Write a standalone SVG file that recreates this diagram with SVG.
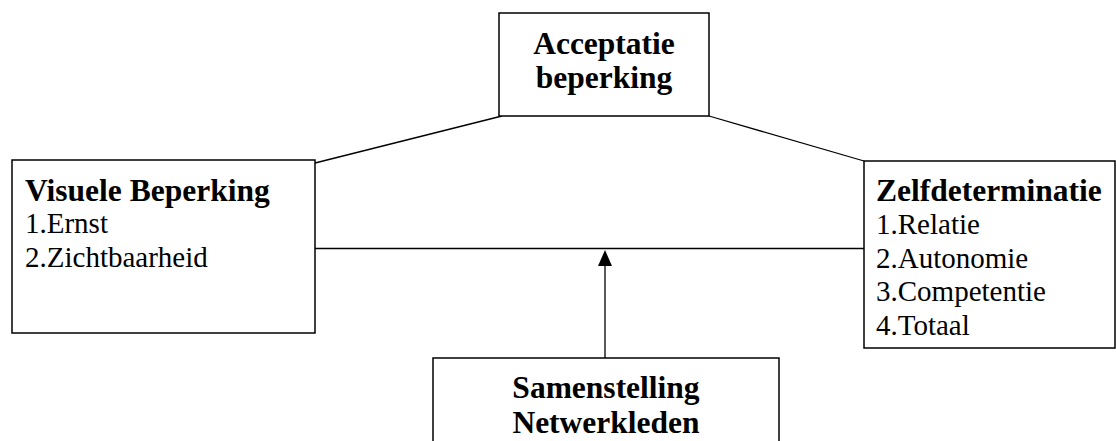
<svg xmlns="http://www.w3.org/2000/svg" width="1116" height="441" viewBox="0 0 1116 441">
<style>
.box{fill:#fff;stroke:#000;stroke-width:1.5}
.line{stroke:#000;stroke-width:1.3;fill:none}
.b{font-family:"Liberation Serif","Times New Roman",serif;font-weight:bold;font-size:31.5px;fill:#000}
.r{font-family:"Liberation Serif","Times New Roman",serif;font-size:29px;fill:#000}
</style>
<defs>
<marker id="arr" markerWidth="14" markerHeight="16" refX="7" refY="1" orient="auto-start-reverse" markerUnits="userSpaceOnUse" viewBox="0 0 14 16">
<path d="M0,16 L7,0 L14,16 Z" fill="#000"/>
</marker>
</defs>
<rect width="1116" height="441" fill="#fff"/>
<g id="connectors">
<line class="line" x1="315" y1="163" x2="502" y2="116"/>
<line class="line" x1="709" y1="116" x2="864" y2="161"/>
<line class="line" x1="315" y1="248.5" x2="864" y2="248.5"/>
<line class="line" x1="605" y1="358" x2="605" y2="266"/>
<path d="M598,266 L605,250 L612,266 Z" fill="#000"/>
</g>
<g id="acceptatie">
<rect class="box" x="499" y="13" width="210" height="103"/>
<text class="b" x="604" y="54" text-anchor="middle">Acceptatie</text>
<text class="b" x="604" y="88" text-anchor="middle">beperking</text>
</g>
<g id="visuele">
<rect class="box" x="12" y="160" width="303" height="173"/>
<text class="b" x="25" y="201">Visuele Beperking</text>
<text class="r" x="25" y="233">1.Ernst</text>
<text class="r" x="25" y="267">2.Zichtbaarheid</text>
</g>
<g id="zelfdeterminatie">
<rect class="box" x="864" y="161" width="251" height="187"/>
<text class="b" x="876" y="201">Zelfdeterminatie</text>
<text class="r" x="876" y="234">1.Relatie</text>
<text class="r" x="876" y="268">2.Autonomie</text>
<text class="r" x="876" y="301">3.Competentie</text>
<text class="r" x="876" y="335">4.Totaal</text>
</g>
<g id="samenstelling">
<rect class="box" x="433" y="358" width="346" height="100"/>
<text class="b" x="606" y="398" text-anchor="middle">Samenstelling</text>
<text class="b" x="606" y="433" text-anchor="middle">Netwerkleden</text>
</g>
</svg>
